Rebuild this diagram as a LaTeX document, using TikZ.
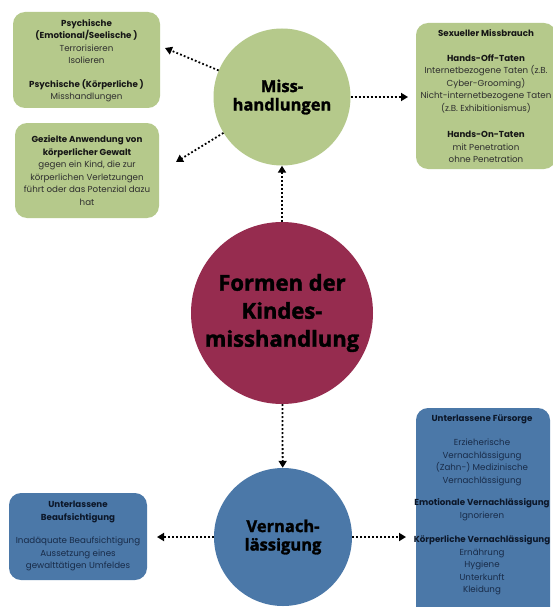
\documentclass[tikz,border=0pt]{standalone}
\usepackage{fontspec}
\setmainfont{Poppins}
\newfontfamily\opensans{Open Sans}[BoldFeatures={FakeBold=1.6}]
\usetikzlibrary{arrows.meta}
\definecolor{mgreen}{HTML}{B5C98B}
\definecolor{mred}{HTML}{962C4F}
\definecolor{mblue}{HTML}{4B78A8}
\definecolor{gtitle}{HTML}{161616}
\definecolor{gtext}{HTML}{2E2E2E}
\definecolor{btitle}{HTML}{0C1729}
\definecolor{btext}{HTML}{182B48}
\newcommand\GrTitle[1]{{\bfseries\color{gtitle}#1}}
\newcommand\BlTitle[1]{{\bfseries\color{btitle}#1}}
\tikzset{
  gbox/.style={fill=mgreen, rounded corners=12pt, inner sep=0},
  bbox/.style={fill=mblue, rounded corners=12pt, inner sep=0},
  gtxt/.style={align=center, inner sep=0, text=gtext, font=\fontsize{8.7}{12.5}\selectfont},
  btxt/.style={align=center, inner sep=0, text=btext, font=\fontsize{8.7}{12.5}\selectfont},
  bigcirc/.style={circle, inner sep=0, align=center, text=black},
  conn/.style={line width=1.8pt, dash pattern=on 1.8pt off 2.2pt, -{Triangle[width=8pt,length=7pt]}}
}
\begin{document}
\begin{tikzpicture}[x=1pt,y=-1pt]
\useasboundingbox (0,0) rectangle (553,607);
\clip (0,0) rectangle (553,607);
\fill[white] (0,0) rectangle (553,607);
% circles
\node[bigcirc, fill=mgreen, minimum size=137pt, font=\opensans\bfseries\fontsize{16.5}{18.5}\selectfont] (m) at (282,97) {Miss-\\handlungen};
\node[bigcirc, fill=mred, minimum size=182pt, font=\opensans\bfseries\fontsize{22}{28}\selectfont] (c) at (282,313) {Formen der\\Kindes-\\misshandlung};
\node[bigcirc, fill=mblue, minimum size=138pt, font=\opensans\bfseries\fontsize{16.5}{18.5}\selectfont] (v) at (283,537) {Vernach-\\lässigung};
% boxes
\node[gbox, minimum width=147pt, minimum height=96pt] (b1) at (86.5,60) {};
\node[gbox, minimum width=144pt, minimum height=95pt] (b2) at (87,170.5) {};
\node[gbox, minimum width=140pt, minimum height=146pt] (b3) at (486,96) {};
\node[bbox, minimum width=134pt, minimum height=212pt] (b4) at (483,514) {};
\node[bbox, minimum width=138pt, minimum height=87pt] (b5) at (78,536.5) {};
% texts
\node[gtxt] (t1) at (86.5,60.5) {\GrTitle{Psychische}\\ \GrTitle{(Emotional/Seelische )}\\ Terrorisieren\\ Isolieren\\[11pt] \GrTitle{Psychische (Körperliche )}\\ Misshandlungen};
\node[gtxt] (t2) at (87,170.5) {\GrTitle{Gezielte Anwendung von}\\ \GrTitle{körperlicher Gewalt}\\ gegen ein Kind, die zur\\ körperlichen Verletzungen\\ führt oder das Potenzial dazu\\ hat};
\node[gtxt] (t3) at (486,96.5) {\GrTitle{Sexueller Missbrauch}\\[12pt] \GrTitle{Hands-Off-Taten}\\ Internetbezogene Taten (z.B.\\ Cyber-Grooming)\\ Nicht-internetbezogene Taten\\ (z.B. Exhibitionismus)\\[14pt] \GrTitle{Hands-On-Taten}\\ mit Penetration\\ ohne Penetration};
\node[btxt] (t4) at (482,505) {\BlTitle{Unterlassene Fürsorge}\\[12pt] Erzieherische\\ Vernachlässigung\\ (Zahn-) Medizinische\\ Vernachlässigung\\[10pt] \BlTitle{Emotionale Vernachlässigung}\\ Ignorieren\\[12pt] \BlTitle{Körperliche Vernachlässigung}\\ Ernährung\\ Hygiene\\ Unterkunft\\ Kleidung};
\node[btxt] (t5) at (78,536) {\BlTitle{Unterlassene}\\ \BlTitle{Beaufsichtigung}\\[11pt] Inadäquate Beaufsichtigung\\ Aussetzung eines\\ gewalttätigen Umfeldes};
% connector ends
\coordinate (a1) at (165,48);
\coordinate (a2) at (176,162);
\coordinate (a3) at (408,97);
\coordinate (a4) at (406,537);
\coordinate (a5) at (157,537);
% connectors
\draw[conn] (m) -- (a1);
\draw[conn] (m) -- (a2);
\draw[conn] (m) -- (a3);
\draw[conn] (c) -- (m);
\draw[conn] (c) -- (v);
\draw[conn] (v) -- (a4);
\draw[conn] (v) -- (a5);
\end{tikzpicture}
\end{document}
